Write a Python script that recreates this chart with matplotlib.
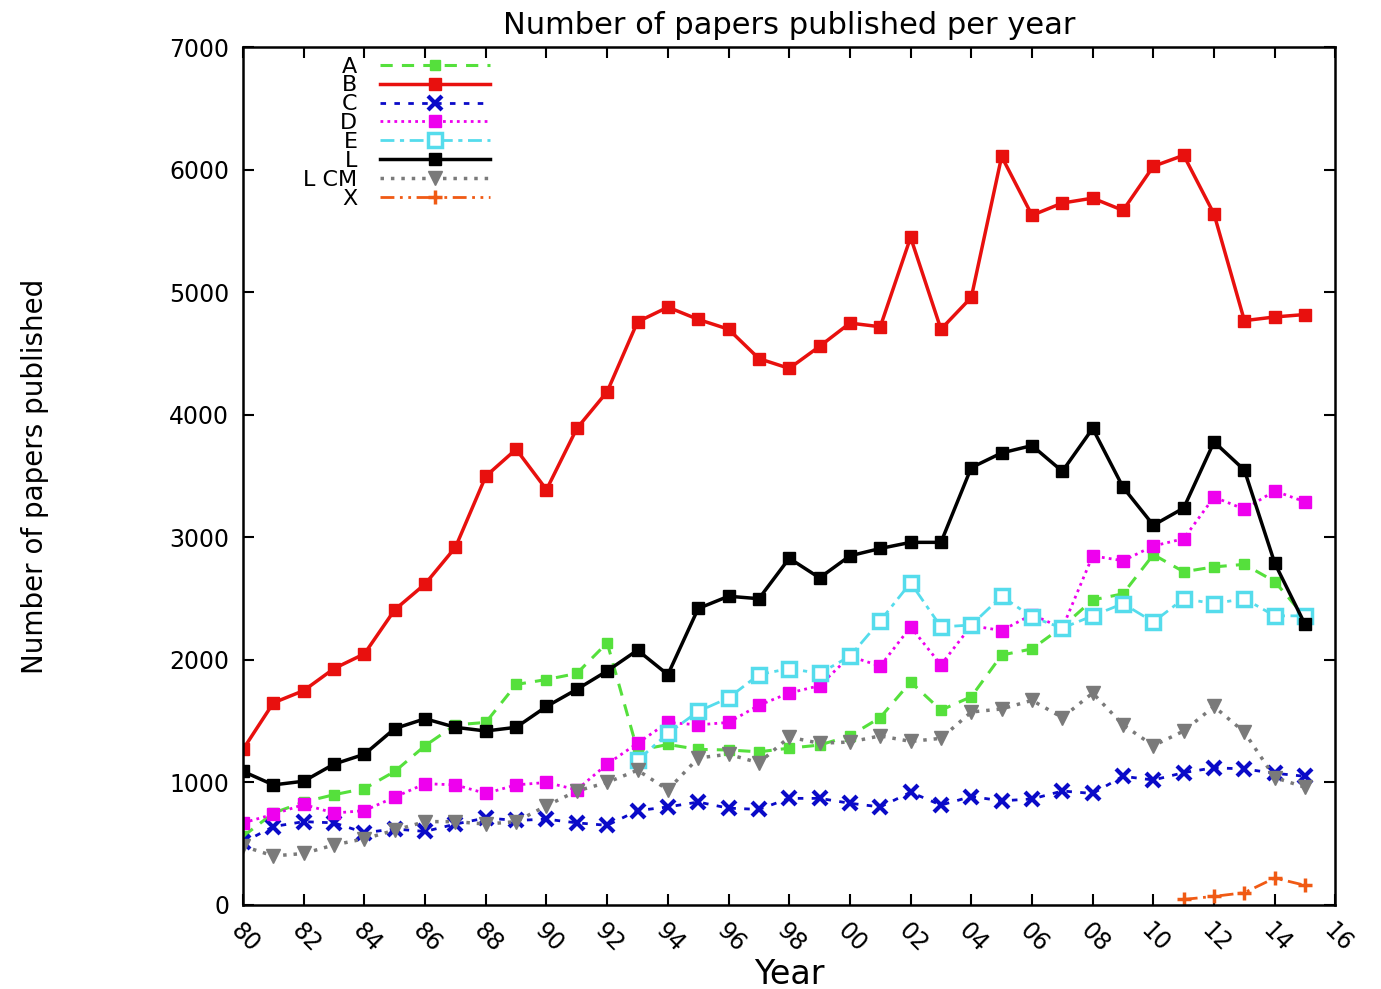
import numpy as np
import matplotlib
matplotlib.use('Agg')
import matplotlib.pyplot as plt

years = list(range(1980, 2016))
years_e = list(range(1993, 2016))
years_x = list(range(2011, 2016))

a_vals = [560, 750, 840, 900, 950, 1090, 1300, 1470, 1490, 1800, 1840, 1890, 2140,
          1260, 1310, 1270, 1265, 1250, 1280, 1305, 1380, 1530, 1820, 1590, 1700,
          2040, 2090, 2270, 2490, 2540, 2860, 2720, 2760, 2780, 2640, 2350]
b_vals = [1270, 1650, 1750, 1930, 2050, 2410, 2620, 2920, 3500, 3720, 3390, 3890, 4190,
          4760, 4880, 4780, 4700, 4460, 4380, 4560, 4750, 4720, 5450, 4700, 4960,
          6110, 5630, 5730, 5770, 5670, 6030, 6120, 5640, 4770, 4800, 4820]
c_vals = [510, 640, 680, 670, 590, 620, 600, 660, 710, 690, 700, 670, 650,
          770, 800, 840, 790, 780, 870, 870, 830, 800, 920, 815, 885,
          850, 865, 930, 910, 1050, 1020, 1080, 1120, 1110, 1075, 1050]
d_vals = [670, 740, 820, 750, 770, 880, 990, 980, 910, 980, 1000, 940, 1150,
          1320, 1490, 1470, 1490, 1630, 1730, 1790, 2030, 1950, 2270, 1960, 2280,
          2240, 2370, 2260, 2850, 2810, 2930, 2990, 3330, 3230, 3380, 3290]
e_vals = [1180, 1400, 1580, 1690, 1880, 1930, 1890, 2030, 2320, 2630, 2270, 2285,
          2520, 2350, 2260, 2360, 2460, 2310, 2500, 2460, 2500, 2360, 2360]
l_vals = [1090, 980, 1010, 1150, 1230, 1440, 1520, 1450, 1420, 1450, 1620, 1760, 1910,
          2080, 1880, 2420, 2520, 2500, 2830, 2670, 2850, 2910, 2960, 2960, 3570,
          3690, 3750, 3540, 3890, 3410, 3100, 3240, 3780, 3550, 2790, 2290]
lcm_vals = [480, 400, 420, 490, 540, 610, 680, 680, 660, 680, 810, 930, 1000,
            1100, 940, 1200, 1230, 1160, 1370, 1320, 1330, 1380, 1335, 1360, 1575,
            1600, 1670, 1530, 1730, 1470, 1300, 1420, 1620, 1410, 1040, 960]
x_vals = [45, 70, 100, 220, 160]

xtick_pos = list(range(1980, 2017, 2))
xtick_labels = ['%02d' % (y % 100) for y in xtick_pos]

fig = plt.figure(figsize=(13.81, 9.89), dpi=100)
ax = fig.add_axes([0.176, 0.085, 0.791, 0.867])

ax.plot(years, a_vals, color='#55e03c', ls=(0, (4, 3)), lw=2.2, marker='s', ms=7, label='A')
ax.plot(years, b_vals, color='#e8100e', ls='-', lw=2.5, marker='s', ms=8, label='B')
ax.plot(years, c_vals, color='#0a0ac8', ls=(0, (2, 3)), lw=2, marker='x', ms=10, mew=3, label='C')
ax.plot(years, d_vals, color='#ee00ee', ls=(0, (1, 1.5)), lw=2, marker='s', ms=8, label='D')
ax.plot(years_e, e_vals, color='#55dcec', ls=(0, (5, 2, 1.5, 2)), lw=2, marker='s', ms=10,
        mfc='white', mew=2.5, label='E')
ax.plot(years, l_vals, color='black', ls='-', lw=2.5, marker='s', ms=8, label='L')
ax.plot(years, lcm_vals, color='#7a7a7a', ls=(0, (1, 2)), lw=2.5, marker='v', ms=10, label='L CM')
ax.plot(years_x, x_vals, color='#f05a14', ls=(0, (5, 2, 1, 2, 1, 2)), lw=2, marker='+', ms=10,
        mew=2.5, label='X')

ax.set_xlim(1980, 2016)
ax.set_ylim(0, 7000)
ax.set_xticks(xtick_pos)
ax.set_xticklabels(xtick_labels, rotation=-45, ha='left', va='top', fontsize=19,
                   rotation_mode='anchor')
ax.set_yticks(range(0, 7001, 1000))
ax.tick_params(axis='both', direction='in', length=8, width=1.5, top=True, right=True,
               labelsize=17)
ax.tick_params(axis='x', pad=10)
ax.tick_params(axis='y', pad=10)
for s in ax.spines.values():
    s.set_linewidth(1.8)

ax.set_title('Number of papers published per year', fontsize=22, pad=10)
ax.set_xlabel('Year', fontsize=24)
ax.xaxis.set_label_coords(0.5, -0.062)
ax.set_ylabel('Number of papers published', fontsize=20)
ax.yaxis.set_label_coords(-0.178, 0.5)

ax.legend(loc='upper left', bbox_to_anchor=(0.043, 1.005), markerfirst=False, frameon=False,
          fontsize=16, labelspacing=-0.05, handlelength=4.95, borderaxespad=0.2,
          handletextpad=1.0)

fig.savefig('out.png', dpi=100)
